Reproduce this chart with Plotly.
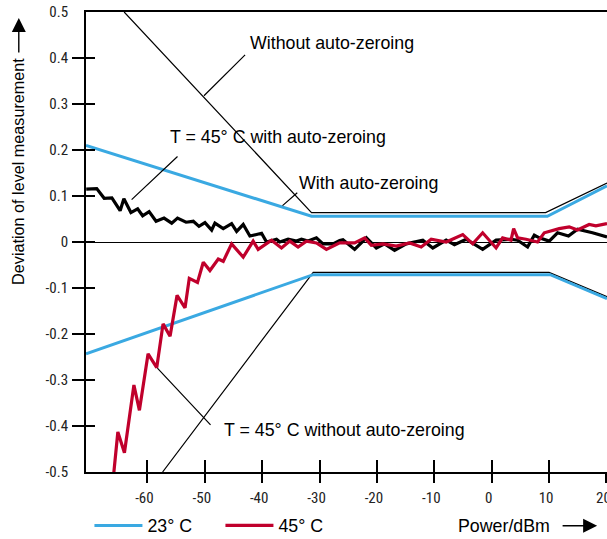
import plotly.graph_objects as go

# ---- data ----
x_ticks = [-60, -50, -40, -30, -20, -10, 0, 10, 20]
x_tick_labels = ["-60", "-50", "-40", "-30", "-20", "-10", "0", "10", "20"]
y_ticks = [-0.5, -0.4, -0.3, -0.2, -0.1, 0, 0.1, 0.2, 0.3, 0.4, 0.5]
y_tick_labels = ["-0.5", "-0.4", "-0.3", "-0.2", "-0.1", "0", "0.1", "0.2", "0.3", "0.4", "0.5"]
y_mark_ticks = [-0.4, -0.3, -0.2, -0.1, 0, 0.1, 0.2, 0.3, 0.4]

# 23 C tolerance band (with auto-zeroing)
blue_upper_x = [-70.7, -31.4, 9.7, 20.1]
blue_upper_y = [0.21, 0.056, 0.056, 0.122]
blue_lower_x = [-70.7, -31.1, 10.2, 20.1]
blue_lower_y = [-0.243, -0.071, -0.071, -0.123]

# without auto-zeroing band
wo_upper_x = [-64.05, -31.4, 9.4, 20.1]
wo_upper_y = [0.5, 0.064, 0.064, 0.128]
wo_lower_x = [-57.35, -31.1, 10.0, 20.1]
wo_lower_y = [-0.5, -0.066, -0.066, -0.119]

# T = 45 C with auto-zeroing (black curve)
black_x = [-70.66, -68.83, -67.53, -66.19, -64.75, -64.10, -62.87, -61.70, -60.83, -59.70,
           -58.49, -57.10, -55.76, -54.75, -53.27, -52.00, -51.01, -49.97, -48.80, -48.23,
           -46.78, -45.32, -44.45, -43.30, -42.14, -40.10, -39.23, -37.50, -36.92, -35.48,
           -34.02, -33.15, -32.00, -30.54, -29.39, -27.65, -26.49, -25.91, -23.88, -21.84,
           -20.10, -18.66, -16.92, -14.89, -12.00, -10.26, -7.93, -6.49, -4.45, -1.57,
           0.77, 3.37, 4.52, 6.26, 7.43, 8.30, 10.03, 11.48, 13.39, 14.96, 17.57, 20.1]
black_y = [0.115, 0.116, 0.095, 0.096, 0.068, 0.094, 0.064, 0.072, 0.057, 0.066,
           0.045, 0.052, 0.041, 0.052, 0.043, 0.045, 0.034, 0.042, 0.026, 0.041,
           0.029, 0.040, 0.023, 0.038, 0.013, 0.019, 0.000, 0.006, 0.000, 0.006,
           0.002, 0.006, 0.002, 0.009, -0.004, -0.004, 0.003, 0.005, -0.016, 0.009,
           -0.013, -0.004, -0.018, -0.004, 0.004, -0.013, 0.004, -0.006, 0.006, -0.016,
           0.004, 0.006, 0.004, -0.011, 0.015, 0.009, 0.002, 0.020, 0.013, 0.028, 0.020, 0.011]

# T = 45 C without auto-zeroing (red curve)
red_x = [-65.91, -65.15, -64.00, -62.35, -61.39, -59.88, -58.37, -57.27, -56.05, -54.83,
         -53.44, -52.70, -51.27, -50.26, -49.10, -47.65, -46.78, -45.32, -43.30, -41.57,
         -40.70, -39.23, -38.37, -36.63, -35.18, -33.74, -32.28, -30.54, -28.80, -26.49,
         -23.88, -22.14, -20.97, -18.96, -16.63, -14.31, -12.28, -10.54, -7.93, -5.04,
         -3.30, -1.57, 0.77, 1.91, 3.37, 3.83, 4.52, 5.98, 8.00, 9.17,
         11.77, 13.51, 14.96, 16.99, 18.16, 20.1]
red_y = [-0.509, -0.413, -0.458, -0.311, -0.366, -0.243, -0.273, -0.178, -0.205, -0.116,
         -0.143, -0.079, -0.088, -0.044, -0.062, -0.037, -0.042, -0.004, -0.033, 0.002,
         -0.016, -0.004, 0.004, -0.013, 0.002, -0.011, 0.002, -0.002, -0.016, -0.002,
         -0.002, 0.009, -0.007, -0.004, -0.009, -0.002, -0.011, 0.006, 0.000, 0.016,
         -0.004, 0.020, -0.013, 0.009, 0.004, 0.029, 0.009, 0.006, 0.000, 0.020,
         0.029, 0.033, 0.026, 0.038, 0.035, 0.040]

# callouts: text, text anchor (x, y), leader tail (x, y), leader head (x, y)
callout_text = ["Without auto-zeroing", "T = 45° C with auto-zeroing",
                "With auto-zeroing", "T = 45° C without auto-zeroing"]
callout_pos = [(-42.4, 0.432), (-56.4, 0.229), (-34.0, 0.129), (-47.0, -0.409)]
callout_tail = [(-42.71, 0.410), (-54.49, 0.189), (-33.62, 0.110), (-48.75, -0.401)]
callout_head = [(-50.14, 0.318), (-62.75, 0.092), (-36.45, 0.079), (-58.26, -0.274)]

legend_names = ["23° C", "45° C"]

BLUE = "#3aa9e2"
RED = "#c0002c"
TXT = "Liberation Sans, Arial, Helvetica, sans-serif"
NARROW = "Liberation Sans Narrow, Arial Narrow, Roboto Condensed, DejaVu Sans Condensed, sans-serif"
FS = 17.8

fig = go.Figure()

for xs, ys in [(wo_upper_x, wo_upper_y), (wo_lower_x, wo_lower_y)]:
    fig.add_trace(go.Scatter(x=xs, y=ys, mode="lines", line=dict(color="black", width=1.2),
                             showlegend=False, hoverinfo="skip"))

fig.add_trace(go.Scatter(x=blue_upper_x, y=blue_upper_y, mode="lines", name=legend_names[0],
                         line=dict(color=BLUE, width=3), legendrank=1))
fig.add_trace(go.Scatter(x=blue_lower_x, y=blue_lower_y, mode="lines", name=legend_names[0],
                         line=dict(color=BLUE, width=3), showlegend=False))
fig.add_trace(go.Scatter(x=black_x, y=black_y, mode="lines", line=dict(color="black", width=3.2),
                         showlegend=False))
fig.add_trace(go.Scatter(x=red_x, y=red_y, mode="lines", name=legend_names[1],
                         line=dict(color=RED, width=3.2), legendrank=2))

# dummy traces for overlay tick axes
fig.add_trace(go.Scatter(x=[None], y=[None], xaxis="x2", yaxis="y", showlegend=False))
fig.add_trace(go.Scatter(x=[None], y=[None], xaxis="x", yaxis="y2", showlegend=False))
fig.add_trace(go.Scatter(x=[None], y=[None], xaxis="x", yaxis="y3", showlegend=False))

xr = [-70.7, 20.1]
yr = [-0.5, 0.5]

annotations = []
for t, p, tl, hd in zip(callout_text, callout_pos, callout_tail, callout_head):
    annotations.append(dict(x=p[0], y=p[1], xref="x", yref="y", text=t, showarrow=False,
                            xanchor="left", yanchor="middle",
                            font=dict(family=TXT, size=FS, color="black")))
    annotations.append(dict(x=hd[0], y=hd[1], ax=tl[0], ay=tl[1], xref="x", yref="y",
                            axref="x", ayref="y", text="", showarrow=True, arrowhead=0,
                            arrowwidth=1.2, arrowcolor="black"))

# axis titles with arrows
annotations.append(dict(x=-0.131, y=0.654, xref="paper", yref="paper",
                        text="Deviation of level measurement", textangle=-90, showarrow=False,
                        xanchor="center", yanchor="middle",
                        font=dict(family=TXT, size=16.2, color="black")))
annotations.append(dict(x=-0.129, y=0.987, xref="paper", yref="paper", ax=0, ay=36,
                        text="", showarrow=True, arrowhead=2, arrowsize=2, arrowwidth=1.4,
                        arrowcolor="black"))
annotations.append(dict(x=0.71, y=-0.117, xref="paper", yref="paper",
                        text="Power/dBm", showarrow=False, xanchor="left", yanchor="middle",
                        font=dict(family=TXT, size=FS, color="black")))
annotations.append(dict(x=0.981, y=-0.117, xref="paper", yref="paper", ax=-36, ay=0,
                        text="", showarrow=True, arrowhead=2, arrowsize=2, arrowwidth=1.4,
                        arrowcolor="black"))

fig.update_layout(
    width=607, height=539,
    margin=dict(l=86, r=0, t=12, b=67, autoexpand=False),
    plot_bgcolor="white", paper_bgcolor="white",
    showlegend=True,
    legend=dict(orientation="h", x=0.0066, y=-0.117, xanchor="left", yanchor="middle",
                font=dict(family=TXT, size=FS, color="black"), itemwidth=48,
                entrywidth=68, entrywidthmode="pixels", bgcolor="rgba(0,0,0,0)",
                traceorder="normal"),
    annotations=annotations,
    xaxis=dict(range=xr, tickmode="array", tickvals=x_ticks, ticktext=x_tick_labels,
               ticks="outside", ticklen=9, tickwidth=1.5, tickcolor="black",
               showline=True, linewidth=1.8, linecolor="black", mirror=True,
               showgrid=False, zeroline=False, automargin=False,
               tickfont=dict(family=NARROW, size=15, color="#222"), ticklabelstandoff=2,
               ticklabelshift=-3, ticklabeloverflow="allow"),
    xaxis2=dict(range=xr, overlaying="x", anchor="y", tickmode="array", tickvals=x_ticks,
                ticks="inside", ticklen=12, tickwidth=1.5, tickcolor="black", automargin=False,
                showticklabels=False, showline=False, showgrid=False, zeroline=False),
    yaxis=dict(range=yr, tickmode="array", tickvals=y_ticks, ticktext=y_tick_labels,
               ticks="outside", ticklen=13, tickwidth=1.5, tickcolor="rgba(0,0,0,0)",
               showline=True, linewidth=1.8, linecolor="black", automargin=False,
               showgrid=False, zeroline=True, zerolinecolor="black", zerolinewidth=1.2,
               tickfont=dict(family=NARROW, size=15, color="#222"), ticklabeloverflow="allow"),
    yaxis2=dict(range=yr, overlaying="y", anchor="x", side="left", tickmode="array",
                tickvals=y_mark_ticks, ticks="outside", ticklen=13, tickwidth=1.5,
                tickcolor="black", showticklabels=False, showline=False, showgrid=False,
                zeroline=False, automargin=False),
    yaxis3=dict(range=yr, overlaying="y", anchor="x", side="left", tickmode="array",
                tickvals=y_mark_ticks, ticks="inside", ticklen=9, tickwidth=1.5,
                tickcolor="black", showticklabels=False, showline=False, showgrid=False,
                zeroline=False, automargin=False),
)

fig.write_html("out.html", config={"displayModeBar": False},
               post_script="document.body.style.margin='0';document.body.style.overflow='hidden';")
